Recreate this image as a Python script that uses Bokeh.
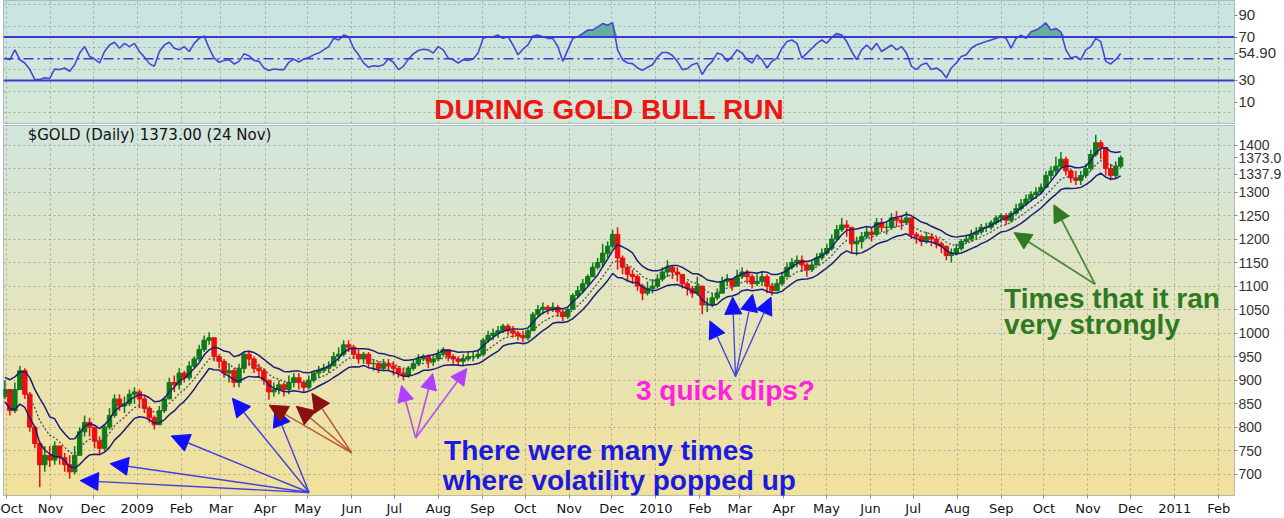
import numpy as np
import pandas as pd
from bokeh.plotting import figure
from bokeh.layouts import column
from bokeh.models import Range1d, FixedTicker, Label, Arrow, NormalHead, ColumnDataSource, Span
from bokeh.embed import file_html
from bokeh.resources import INLINE

# ---------------- data ----------------
first_date = "2008-09-30"
last_date = "2010-11-24"
first_open = 865
close = [880, 835, 880, 920, 870, 800, 765, 720, 740, 730, 760, 735, 720, 705, 740, 790, 810, 800, 770, 755,
         800, 825, 860, 845, 850, 870, 875, 860, 840, 820, 805, 835, 860, 895, 890, 915, 905, 930, 945, 965,
         985, 990, 950, 940, 915, 920, 895, 925, 955, 945, 925, 920, 900, 875, 880, 890, 880, 895, 905, 895,
         885, 900, 915, 920, 925, 930, 950, 955, 975, 970, 955, 945, 955, 935, 935, 925, 935, 930, 925, 915,
         910, 925, 935, 945, 950, 940, 945, 955, 965, 950, 945, 940, 945, 950, 950, 955, 985, 995, 1000, 1005,
         1015, 1005, 1000, 995, 990, 1005, 1040, 1050, 1055, 1050, 1055, 1045, 1035, 1050, 1080, 1090, 1105, 1120, 1140, 1150,
         1170, 1185, 1210, 1160, 1140, 1125, 1120, 1100, 1085, 1095, 1100, 1115, 1130, 1140, 1130, 1125, 1105, 1095, 1085, 1100,
         1060, 1060, 1075, 1085, 1110, 1115, 1100, 1120, 1130, 1120, 1105, 1110, 1120, 1100, 1090, 1105, 1120, 1140, 1150, 1155,
         1145, 1135, 1145, 1160, 1170, 1180, 1200, 1220, 1230, 1225, 1190, 1195, 1205, 1215, 1210, 1235, 1225, 1225, 1245, 1240,
         1235, 1245, 1210, 1205, 1195, 1205, 1200, 1190, 1185, 1165, 1170, 1180, 1195, 1200, 1210, 1215, 1225, 1225, 1235, 1245,
         1250, 1240, 1255, 1265, 1275, 1285, 1295, 1300, 1310, 1335, 1345, 1355, 1370, 1345, 1330, 1325, 1335, 1350, 1380, 1405,
         1395, 1350, 1335, 1355, 1373]
high = [900, 880, 895, 930, 925, 875, 800, 770, 760, 760, 770, 755, 745, 740, 760, 800, 825, 820, 800, 780,
        805, 840, 870, 870, 865, 880, 885, 880, 865, 845, 825, 845, 865, 905, 910, 925, 920, 940, 950, 975,
        995, 1002, 990, 955, 945, 935, 925, 935, 960, 960, 950, 935, 925, 900, 895, 900, 895, 910, 915, 915,
        900, 910, 920, 930, 935, 940, 960, 970, 985, 985, 975, 965, 960, 960, 945, 940, 945, 945, 940, 930,
        925, 930, 945, 955, 955, 955, 955, 965, 970, 965, 955, 950, 955, 960, 960, 965, 990, 1005, 1010, 1015,
        1020, 1020, 1015, 1005, 1005, 1010, 1045, 1060, 1065, 1060, 1065, 1060, 1050, 1055, 1085, 1100, 1115, 1125, 1150, 1160,
        1190, 1195, 1220, 1225, 1165, 1145, 1135, 1125, 1105, 1110, 1115, 1125, 1140, 1155, 1145, 1140, 1125, 1110, 1100, 1120,
        1100, 1075, 1085, 1095, 1120, 1125, 1115, 1135, 1140, 1135, 1125, 1125, 1130, 1125, 1105, 1115, 1130, 1150, 1160, 1165,
        1165, 1150, 1155, 1170, 1180, 1190, 1210, 1230, 1245, 1240, 1225, 1205, 1215, 1225, 1225, 1245, 1245, 1235, 1255, 1260,
        1250, 1258, 1245, 1215, 1210, 1215, 1212, 1205, 1195, 1185, 1180, 1190, 1200, 1210, 1220, 1225, 1232, 1235, 1240, 1250,
        1255, 1255, 1260, 1275, 1285, 1295, 1302, 1310, 1318, 1345, 1355, 1375, 1385, 1375, 1350, 1345, 1345, 1360, 1390, 1422,
        1410, 1395, 1360, 1365, 1378]
low = [860, 825, 830, 880, 860, 790, 755, 672, 705, 715, 720, 720, 705, 690, 700, 740, 780, 780, 755, 740,
       750, 795, 820, 835, 830, 845, 850, 840, 830, 810, 795, 805, 830, 860, 875, 880, 895, 900, 925, 940,
       960, 975, 940, 925, 905, 895, 885, 885, 915, 930, 915, 905, 890, 858, 865, 870, 865, 870, 885, 880,
       875, 880, 895, 905, 915, 915, 930, 940, 950, 960, 945, 935, 935, 925, 920, 915, 920, 920, 910, 905,
       900, 905, 920, 930, 940, 925, 930, 940, 950, 940, 935, 930, 930, 940, 940, 945, 950, 980, 985, 990,
       1000, 995, 990, 985, 980, 985, 1005, 1035, 1040, 1040, 1045, 1035, 1025, 1030, 1050, 1075, 1085, 1100, 1120, 1135,
       1140, 1160, 1180, 1135, 1125, 1110, 1105, 1090, 1070, 1080, 1085, 1095, 1110, 1120, 1115, 1110, 1095, 1080, 1075, 1080,
       1040, 1045, 1055, 1070, 1085, 1100, 1090, 1100, 1115, 1105, 1095, 1100, 1100, 1085, 1080, 1090, 1100, 1120, 1135, 1140,
       1130, 1120, 1130, 1145, 1155, 1165, 1175, 1195, 1215, 1205, 1170, 1165, 1180, 1200, 1195, 1205, 1215, 1210, 1220, 1225,
       1220, 1230, 1200, 1190, 1185, 1190, 1185, 1180, 1170, 1155, 1150, 1165, 1175, 1190, 1195, 1200, 1210, 1215, 1220, 1230,
       1235, 1230, 1235, 1250, 1260, 1270, 1280, 1285, 1295, 1310, 1325, 1335, 1350, 1335, 1320, 1315, 1315, 1330, 1345, 1375,
       1370, 1335, 1325, 1330, 1350]
rsi = [50.6, 49.1, 58.2, 49.1, 46.1, 40.0, 30.9, 30.9, 32.4, 31.8, 40.6, 40.0, 41.5, 38.5, 44.5, 55.2, 61.2, 52.1, 49.7, 46.1,
       56.7, 62.7, 65.2, 59.7, 64.2, 61.2, 64.2, 56.7, 51.5, 45.5, 43.0, 56.7, 62.7, 65.2, 59.7, 58.2, 61.2, 56.7, 64.2, 68.8,
       70.9, 59.7, 50.6, 46.7, 48.5, 49.1, 45.2, 47.6, 54.5, 52.7, 48.5, 47.6, 41.5, 39.1, 40.6, 40.0, 40.0, 46.7, 49.7, 47.0,
       49.7, 51.2, 53.6, 55.2, 58.2, 61.2, 68.8, 67.3, 71.8, 70.3, 59.7, 53.6, 46.1, 42.1, 43.6, 43.0, 44.5, 50.0, 46.7, 40.0,
       43.0, 49.7, 54.5, 57.6, 58.8, 58.2,
       55.2, 61.2, 58.2, 50.6, 49.1, 46.1, 49.1, 48.5, 49.7, 55.2, 68.8, 70.3, 70.3, 71.8, 68.8, 70.3, 62.7, 53.6, 58.8, 62.7,
       70.9, 71.8, 70.3, 68.8, 68.8, 61.2, 47.6, 58.2, 68.8, 70.3, 73.3, 76.4, 76.4, 79.4, 82.4, 80.9, 83.3, 58.2, 49.1, 46.1,
       45.5, 41.5, 39.4, 42.1, 44.5, 51.5, 55.8, 55.8, 53.0, 47.6, 40.0, 40.9, 44.5, 46.1, 35.5, 43.0, 47.6, 55.2, 53.6, 47.6,
       52.1, 58.2, 55.2, 49.1, 46.1, 53.6, 49.1, 41.5, 47.6, 50.6, 59.7, 65.8, 67.3, 64.2, 50.6, 55.2, 59.7, 64.2, 67.3, 64.2,
       69.7, 73.3, 71.8, 65.8, 56.7, 49.1,
       58.2, 62.7, 58.2, 64.2, 56.7, 59.7, 62.7, 58.2, 61.2, 55.2, 43.0, 40.0, 44.5, 46.1, 40.0, 41.5, 38.5, 32.4, 41.5, 46.1,
       52.1, 53.6, 59.7, 62.7, 64.2, 65.8, 67.3, 68.8, 70.3, 68.8, 59.7, 68.8, 71.8, 68.8, 74.8, 76.4, 79.4, 83.0, 76.4, 77.9,
       74.8, 58.2, 50.6, 52.1, 49.1, 58.2, 61.2, 68.8, 65.8, 47.6, 45.2, 49.1, 54.9]
month_labels = ["Oct", "Nov", "Dec", "2009", "Feb", "Mar", "Apr", "May", "Jun", "Jul", "Aug", "Sep",
                "Oct", "Nov", "Dec", "2010", "Feb", "Mar", "Apr", "May", "Jun", "Jul", "Aug", "Sep",
                "Oct", "Nov", "Dec", "2011", "Feb"]
price_ticks = [700, 750, 800, 850, 900, 950, 1000, 1050, 1100, 1150, 1200, 1250, 1300, 1400]
rsi_ticks = [10, 30, 70, 90]
last_close = 1373.0
lower_tag_value = 1337.9
rsi_last = 54.90
title_text = "$GOLD (Daily) 1373.00 (24 Nov)"


def ms(d):
    return pd.Timestamp(d).value / 1e6


dates = pd.date_range(first_date, last_date, periods=len(close))
month_starts = pd.date_range("2008-10-01", "2011-02-01", freq="MS")
month_ms = [ms(d) for d in month_starts]

opn = [first_open] + close[:-1]
c = pd.Series(close, dtype=float)
h = pd.Series(high, dtype=float)
l = pd.Series(low, dtype=float)
pc = pd.Series(opn, dtype=float)
tr = pd.concat([h - l, (h - pc).abs(), (l - pc).abs()], axis=1).max(axis=1)
atr = tr.rolling(4, min_periods=1).mean()
mid = c.ewm(span=8, adjust=False).mean()
upper = mid + 0.65 * atr
lower = mid - 0.65 * atr

up = c >= pc
src = ColumnDataSource(dict(
    x=dates, high=h, low=l,
    top=np.maximum(c, pc), bottom=np.minimum(c, pc),
    color=np.where(up, "#0f7a18", "#f20c0c"),
))

X0, X1 = ms("2008-09-29 00:00"), ms("2011-02-12 02:00")
xr = Range1d(X0, X1)
PY0, PY1 = 654.6, 1441.6
RY0, RY1 = -9.7, 103.7
DAY = 86400000.0


def gradient(stops, n=256):
    img = np.empty((n, 1), dtype=np.uint32)
    v = img.view(dtype=np.uint8).reshape((n, 1, 4))
    t = np.linspace(0, 1, n)
    ts = [s[0] for s in stops]
    for k in range(3):
        v[:, 0, k] = np.interp(t, ts, [s[1][k] for s in stops]).astype(np.uint8)
    v[:, 0, 3] = 255
    return img


GRID = "#a4ab9c"


def style_right_axis(ax, size):
    ax.axis_line_color = None
    ax.major_tick_out = 3
    ax.major_tick_in = 0
    ax.minor_tick_line_color = None
    ax.major_tick_line_color = "#888888"
    ax.major_label_standoff = 1
    ax.major_label_text_font = "Liberation Sans"
    ax.major_label_text_font_size = size
    ax.major_label_text_color = "#333333"


# ---------------- RSI panel ----------------
r = figure(width=1284, height=124, x_range=xr, y_range=Range1d(RY0, RY1),
           x_axis_location=None, y_axis_location="right", x_axis_type="datetime",
           toolbar_location=None, output_backend="svg",
           min_border_left=3, min_border_right=47, min_border_top=0, min_border_bottom=1,
           border_fill_color="white", background_fill_color="#d2e8e0",
           outline_line_color="#9fb0b8")
r.image_rgba(image=[gradient([(0, (214, 233, 214)), (1, (200, 229, 226))])],
             x=X0, y=RY0, dw=X1 - X0, dh=RY1 - RY0, level="image")
r.xgrid.ticker = FixedTicker(ticks=month_ms)
r.ygrid.ticker = FixedTicker(ticks=[0, 20, 40, 60, 80, 100])
r.grid.grid_line_color = GRID
r.grid.grid_line_dash = "2 3"
r.yaxis.ticker = FixedTicker(ticks=sorted(rsi_ticks + [rsi_last]))
r.yaxis.major_label_overrides = {rsi_last: "%.2f" % rsi_last}
style_right_axis(r.yaxis[0], "15px")

rsi_arr = np.array(rsi)
r.varea(x=dates, y1=70, y2=np.maximum(rsi_arr, 70), fill_color="#5aa99a", fill_alpha=0.9)
r.varea(x=dates, y1=np.minimum(rsi_arr, 30), y2=30, fill_color="#5aa99a", fill_alpha=0.9)
r.add_layout(Span(location=70, dimension="width", line_color="#3a3ad0", line_width=2))
r.add_layout(Span(location=30, dimension="width", line_color="#3a3ad0", line_width=2))
r.add_layout(Span(location=50, dimension="width", line_color="#3a3ad0", line_width=1.5,
                  line_dash="10 4 2 4"))
r.line(x=dates, y=rsi_arr, line_color="#4646d6", line_width=1.6)

r.add_layout(Label(x=ms("2009-07-29"), y=3.4, text="DURING GOLD BULL RUN",
                   text_font="Liberation Sans", text_font_style="bold", text_font_size="28px",
                   text_color="#f01414", text_align="left", text_baseline="alphabetic"))

# ---------------- price panel ----------------
p = figure(width=1284, height=394, x_range=xr, y_range=Range1d(PY0, PY1),
           x_axis_type="datetime", y_axis_location="right",
           toolbar_location=None, output_backend="svg",
           min_border_left=3, min_border_right=47, min_border_top=1, min_border_bottom=20,
           border_fill_color="white", background_fill_color="#e4e4c0",
           outline_line_color="#9fb0b8")
p.image_rgba(image=[gradient([(0, (242, 225, 155)), (0.5, (229, 229, 190)), (1, (210, 229, 222))])],
             x=X0, y=PY0, dw=X1 - X0, dh=PY1 - PY0, level="image")
p.xgrid.ticker = FixedTicker(ticks=month_ms)
p.ygrid.ticker = FixedTicker(ticks=list(range(650, 1451, 50)))
p.grid.grid_line_color = GRID
p.grid.grid_line_dash = "2 3"

p.yaxis.ticker = FixedTicker(ticks=sorted(price_ticks + [lower_tag_value, last_close]))
p.yaxis.major_label_overrides = {lower_tag_value: "%.1f" % lower_tag_value,
                                 last_close: "%.1f" % last_close}
style_right_axis(p.yaxis[0], "14px")

p.xaxis.ticker = FixedTicker(ticks=month_ms)
p.xaxis.major_label_overrides = {t: lab for t, lab in zip(month_ms, month_labels)}
p.xaxis.axis_line_color = None
p.xaxis.major_tick_out = 3
p.xaxis.major_tick_in = 0
p.xaxis.minor_tick_line_color = None
p.xaxis.major_tick_line_color = "#888888"
p.xaxis.major_label_standoff = 2
p.xaxis.major_label_text_font = "DejaVu Sans"
p.xaxis.major_label_text_font_size = "13px"
p.xaxis.major_label_text_color = "#111111"

# candles
p.segment(x0="x", y0="high", x1="x", y1="low", color="color", line_width=1.5, source=src)
p.vbar(x="x", width=3.1 * DAY, top="top", bottom="bottom", fill_color="color", line_color="color",
       source=src)
# channel
p.line(x=dates, y=upper, line_color="#1c1c7a", line_width=1.5)
p.line(x=dates, y=lower, line_color="#1c1c7a", line_width=1.5)
p.line(x=dates, y=mid, line_color="#4a4a70", line_width=1.3, line_dash="2 2")

# title
p.add_layout(Label(x=ms("2008-10-16"), y=1420.5, text=title_text, text_font="DejaVu Sans",
                   text_font_size="15px", text_color="#111111", text_baseline="middle"))


# annotation texts
def txt(x, y, s, color):
    p.add_layout(Label(x=ms(x), y=y, text=s, text_font="Liberation Sans", text_font_style="bold",
                       text_font_size="28px", text_color=color, text_align="left",
                       text_baseline="alphabetic"))


txt("2009-08-05", 749.6, "There were many times", "#1a1ae0")
txt("2009-08-04", 686.3, "where volatility popped up", "#1a1ae0")
txt("2009-12-18", 878.3, "3 quick dips?", "#ff22dd")
txt("2010-09-03", 1074.5, "Times that it ran", "#2e7a22")
txt("2010-09-03", 1017.5, "very strongly", "#2e7a22")


# arrows
def arrow(t0, y0, t1, y1, line_color, head_color, size, lw):
    p.add_layout(Arrow(x_start=ms(t0), y_start=y0, x_end=ms(t1), y_end=y1,
                       line_color=line_color, line_width=lw,
                       end=NormalHead(size=size, fill_color=head_color, line_color=head_color)))


for t1, y1 in [("2008-11-22", 686.3), ("2008-12-13", 722.2), ("2009-01-25", 781.2),
               ("2009-03-09", 861.4), ("2009-04-08", 840.3)]:
    arrow("2009-05-02", 661.0, t1, y1, "#4040e0", "#1010ff", 18, 1.4)
for t1, y1 in [("2009-04-04", 846.6), ("2009-04-23", 844.5), ("2009-05-04", 871.9)]:
    arrow("2009-06-01", 745.4, t1, y1, "#b4502e", "#8a1010", 18, 1.4)
for t1, y1 in [("2009-07-06", 888.8), ("2009-07-28", 914.1), ("2009-08-21", 924.7)]:
    arrow("2009-07-16", 777.0, t1, y1, "#b050ee", "#b040ff", 16, 1.6)
for t1, y1 in [("2010-02-08", 1026.0), ("2010-02-24", 1076.6), ("2010-03-10", 1082.9),
               ("2010-03-23", 1076.6)]:
    arrow("2010-02-26", 907.8, t1, y1, "#4040e0", "#1010ff", 17, 1.3)
for t1, y1 in [("2010-09-10", 1213.7), ("2010-10-08", 1272.8)]:
    arrow("2010-11-06", 1104.0, t1, y1, "#4a8a3a", "#2e7a22", 17, 1.8)

layout = column(r, p, spacing=0)

open("out.html", "w").write(file_html(layout, INLINE))
